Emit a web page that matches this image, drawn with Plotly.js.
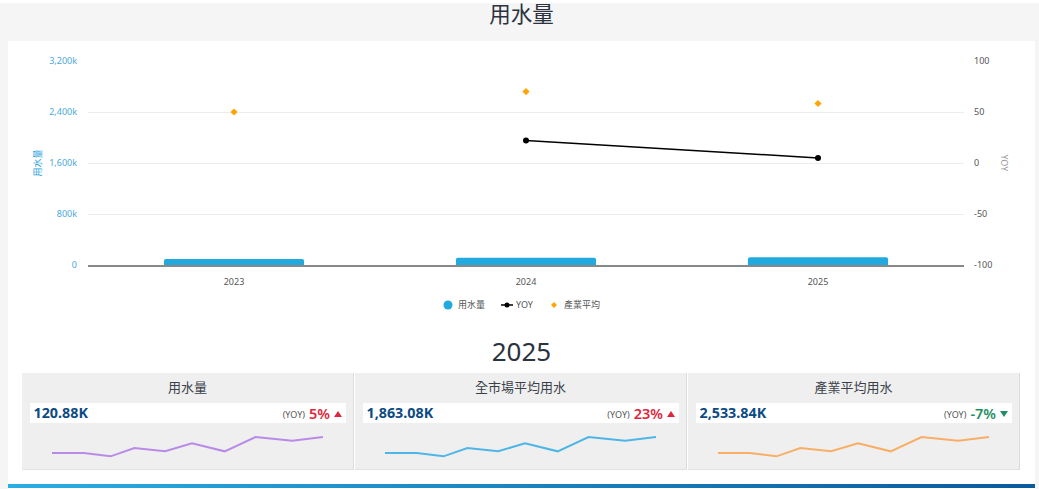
<!DOCTYPE html>
<html>
<head>
<meta charset="utf-8">
<script src="https://cdn.plot.ly/plotly-3.0.1.min.js"></script>
<style>
  html, body { margin: 0; padding: 0; width: 1039px; height: 489px; overflow: hidden; background: #fff;
    font-family: "Noto Sans", "Noto Sans CJK TC", sans-serif; }
  #topband { position: absolute; left: 0; top: 3px; width: 1039px; height: 486px; background: #f5f5f5; }
  #panel { position: absolute; left: 8px; top: 41px; width: 1027px; height: 448px; background: #fff; }
  #title { position: absolute; left: 0; top: 0; width: 1043px; text-align: center; font-size: 21.5px; line-height: 28px; color: #2b3240; }
  #graph { position: absolute; left: 8px; top: 41px; width: 1027px; height: 290px; }
  #legend { position: absolute; top: 297px; left: 0; height: 16px; font-size: 9px; line-height: 16px; color: #555; }
  #legend span { position: absolute; white-space: nowrap; }
  #legend svg { position: absolute; top: 3px; }
  #year { position: absolute; left: 0; top: 333px; width: 1043px; text-align: center; font-size: 26px; line-height: 36px; color: #2b3240; }
  .card { position: absolute; top: 373px; width: 331px; height: 96px; background: #efefef; border-bottom: 1px solid #e2e2e2; border-right: 1px solid #dcdcdc; }
  .card h4 { margin: 0; position: absolute; left: 0; right: 0; top: 4px; text-align: center; font-weight: 400; font-size: 13px; line-height: 20px; color: #3a3f4a; }
  .strip { position: absolute; left: 8px; top: 30px; width: 316px; height: 20px; background: #fff; }
  .val { position: absolute; left: 3.5px; top: 0; font-weight: 700; font-size: 14.3px; line-height: 20px; color: #0c4a82; }
  .yoy { position: absolute; right: 4px; top: 0; line-height: 20px; white-space: nowrap; }
  .yoy small { font-size: 9px; color: #555; margin-right: 4px; vertical-align: 1px; }
  .yoy b { font-size: 14.5px; font-weight: 600; }
  .yoy i { display: inline-block; width: 0; height: 0; margin-left: 4px; vertical-align: 2px; border-left: 4.5px solid transparent; border-right: 4.5px solid transparent; }
  .up i { border-bottom: 6px solid #e0263c; }
  .down i { border-top: 6px solid #1f8f63; }
  .up b { color: #e0263c; }
  .down b { color: #1f8f63; }
  .spark { position: absolute; left: 8px; top: 50px; width: 316px; height: 47px; }
  #rule { position: absolute; left: 8px; top: 484px; width: 1027px; height: 4px; background: linear-gradient(to right, #29aee4, #0a5a9c); }
</style>
</head>
<body>
<div id="topband"></div>
<div id="panel"></div>
<div id="title">用水量</div>
<div id="graph"></div>
<div id="legend">
  <svg style="left:443px" width="10" height="10"><circle cx="5" cy="5" r="4.5" fill="#22aadf"/></svg>
  <span style="left:458px">用水量</span>
  <svg style="left:501px" width="12" height="10"><line x1="0" y1="5" x2="12" y2="5" stroke="#000" stroke-width="1.5"/><circle cx="6" cy="5" r="2.5" fill="#000"/></svg>
  <span style="left:516px">YOY</span>
  <svg style="left:549px" width="10" height="10"><path d="M5 2 L8 5 L5 8 L2 5 Z" fill="#ffa500"/></svg>
  <span style="left:564px">產業平均</span>
</div>
<div id="year">2025</div>
<div id="cards"></div>
<div id="rule"></div>
<script>
const years = ["2023", "2024", "2025"];
const waterUse = [94000, 115000, 120880];
const yoy = [null, 22, 5];
const industryAvg = [2400000, 2720000, 2533840];

const leftTicks = [0, 800000, 1600000, 2400000, 3200000];
const leftTickText = ["0", "800k", "1,600k", "2,400k", "3,200k"];
const rightTicks = [-100, -50, 0, 50, 100];
const rightTickText = ["-100", "-50", "0", "50", "100"];

const cardTitles = ["用水量", "全市場平均用水", "產業平均用水"];
const cardValues = ["120.88K", "1,863.08K", "2,533.84K"];
const cardYoy = [5, 23, -7];
const cardLeft = [22, 355, 688];
const cardColors = ["#b98ae8", "#4db6e6", "#f9ae66"];

const sparkX = [0, 32, 59, 83, 114, 141, 174, 205, 242, 273];
const sparkWater = [51, 51, 41, 66, 56, 80, 56, 99, 88, 99];
const sparkMarket = [51, 51, 41, 66, 56, 80, 56, 99, 88, 99];
const sparkIndustry = [51, 51, 41, 66, 56, 80, 56, 99, 88, 99];
const sparkSeries = [sparkWater, sparkMarket, sparkIndustry];

function renderMain() {
  const font = { family: '"Noto Sans", "Noto Sans CJK TC", sans-serif', size: 9, color: "#555" };
  const traces = [
    { type: "bar", x: years, y: waterUse, name: "用水量", marker: { color: "#22aadf", cornerradius: 2 } },
    { type: "scatter", mode: "lines+markers", x: years, y: yoy, name: "YOY", yaxis: "y2",
      line: { color: "#000", width: 1.5 }, marker: { color: "#000", size: 6 } },
    { type: "scatter", mode: "markers", x: years, y: industryAvg, name: "產業平均",
      marker: { color: "#ffa500", symbol: "diamond", size: 5.5 } },
  ];
  const layout = {
    width: 1027,
    height: 290,
    margin: { l: 80, r: 71, t: 20, b: 66 },
    paper_bgcolor: "rgba(0,0,0,0)",
    plot_bgcolor: "rgba(0,0,0,0)",
    font: font,
    showlegend: false,
    bargap: 0.52,
    xaxis: {
      type: "category",
      showgrid: false,
      zeroline: false,
      showline: true,
      linecolor: "#888",
      linewidth: 1.5,
      ticklen: 0,
      ticklabelstandoff: 7,
      tickfont: { color: "#555", size: 9 },
    },
    yaxis: {
      range: [0, 3200000],
      tickvals: leftTicks,
      ticktext: leftTickText,
      gridcolor: "#ececec",
      zeroline: false,
      ticklen: 0,
      ticklabelstandoff: 10,
      tickfont: { color: "#4aa8dc", size: 9 },
      title: { text: "用水量", standoff: 6, font: { color: "#29a3dc", size: 9 } },
    },
    yaxis2: {
      overlaying: "y",
      side: "right",
      range: [-100, 100],
      tickvals: rightTicks,
      ticktext: rightTickText,
      showgrid: false,
      zeroline: false,
      ticklen: 0,
      ticklabelstandoff: 9,
      tickfont: { color: "#555", size: 9 },
    },
    annotations: [
      { text: "YOY", xref: "paper", yref: "paper", x: 1.056, y: 0.5, textangle: 90, showarrow: false,
        font: { color: "#999", size: 9 } },
    ],
  };
  Plotly.newPlot("graph", traces, layout, { displayModeBar: false });
}

function renderCards() {
  const box = document.getElementById("cards");
  cardTitles.forEach((title, i) => {
    const up = cardYoy[i] > 0;
    const card = document.createElement("div");
    card.className = "card";
    card.style.left = cardLeft[i] + "px";
    card.innerHTML =
      "<h4>" + title + "</h4>" +
      '<div class="strip"><span class="val">' + cardValues[i] + "</span>" +
      '<span class="yoy ' + (up ? "up" : "down") + '"><small>(YOY)</small><b>' + cardYoy[i] + "%</b><i></i></span></div>" +
      '<div class="spark" id="spark' + i + '"></div>';
    box.appendChild(card);

    Plotly.newPlot(
      "spark" + i,
      [{ type: "scatter", mode: "lines", x: sparkX, y: sparkSeries[i], line: { color: cardColors[i], width: 2 } }],
      {
        width: 316,
        height: 47,
        margin: { l: 22, r: 23, t: 0, b: 0 },
        paper_bgcolor: "rgba(0,0,0,0)",
        plot_bgcolor: "rgba(0,0,0,0)",
        showlegend: false,
        xaxis: { visible: false, range: [0, 273] },
        yaxis: { visible: false, range: [0, 141] },
      },
      { displayModeBar: false }
    );
  });
}

renderMain();
renderCards();
</script>
</body>
</html>
